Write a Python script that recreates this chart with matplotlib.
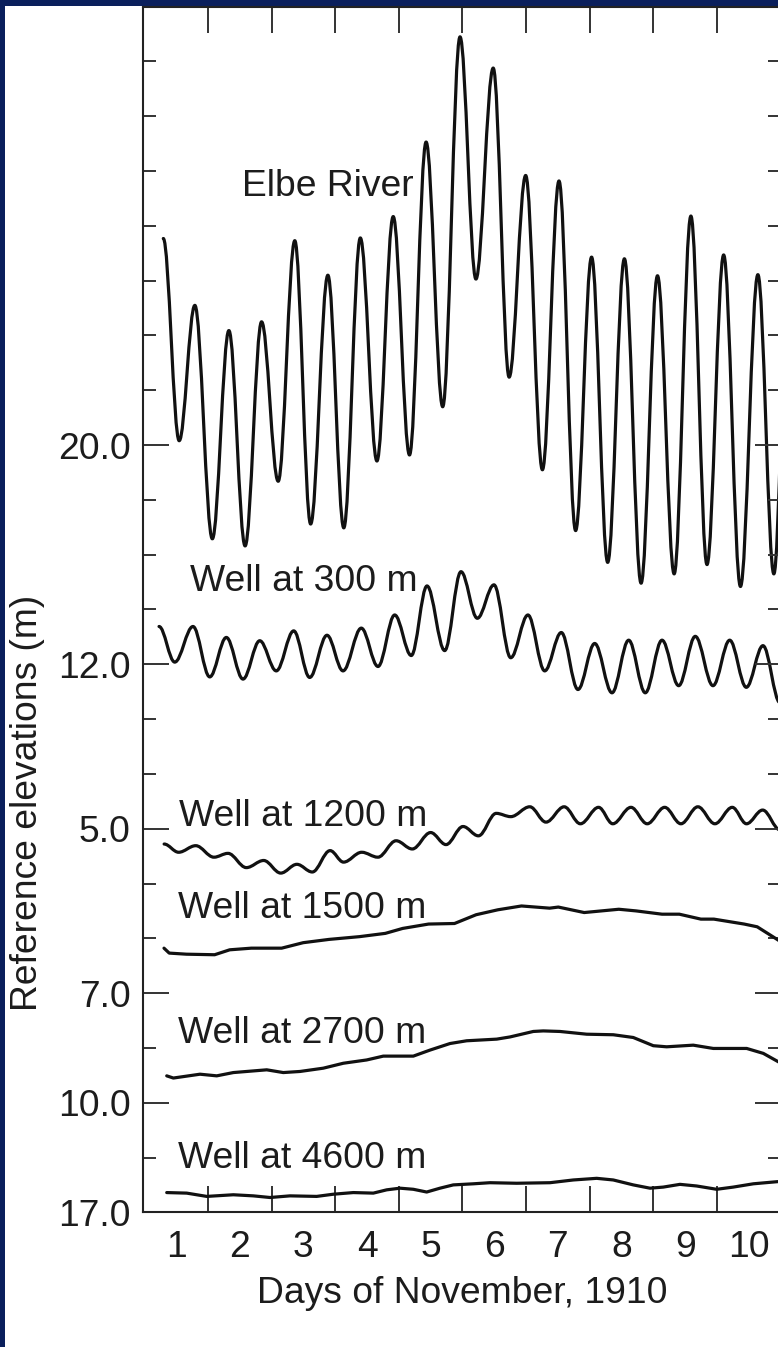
import matplotlib
matplotlib.use("Agg")
import matplotlib.pyplot as plt
from matplotlib.path import Path
from matplotlib.patches import PathPatch, Rectangle
from matplotlib.ticker import FixedLocator

plt.rcParams['font.family'] = ['Liberation Sans', 'DejaVu Sans']

# Chart units: x in days of November, y in offset plot units (one minor tick = 1)
elbe_day = [0.797, 1.047, 1.293, 1.568, 1.828, 2.083, 2.342, 2.603, 2.864, 3.113,
            3.384, 3.634, 3.894, 4.155, 4.411, 4.667, 4.928, 5.189, 5.461, 5.711,
            5.983, 6.233, 6.493, 6.756, 7.017, 7.278, 7.529, 7.782, 8.045, 8.307,
            8.565, 8.827, 9.090, 9.343, 9.605, 9.869, 10.143, 10.394, 10.62]
elbe_level = [17.77, 14.08, 16.55, 12.29, 16.09, 12.16, 16.25, 13.34, 17.73, 12.56,
              17.10, 12.49, 17.78, 13.71, 18.17, 13.82, 19.53, 14.70, 21.45, 17.03,
              20.88, 15.24, 18.92, 13.55, 18.82, 12.44, 17.43, 11.86, 17.40, 11.48,
              17.09, 11.65, 18.18, 11.82, 17.47, 11.42, 17.11, 11.65, 17.0]

well300_day = [0.730, 0.977, 1.264, 1.527, 1.788, 2.050, 2.313, 2.573, 2.847, 3.098,
               3.370, 3.622, 3.909, 4.172, 4.434, 4.695, 4.942, 5.220, 5.476, 5.733,
               5.995, 6.258, 6.529, 6.792, 7.053, 7.315, 7.578, 7.850, 8.112, 8.373,
               8.636, 8.898, 9.159, 9.437, 9.700, 9.961, 10.223, 10.49]
well300_level = [10.69, 10.04, 10.69, 9.77, 10.49, 9.73, 10.43, 9.88, 10.61, 9.76,
                 10.53, 9.88, 10.66, 9.96, 10.90, 10.16, 11.43, 10.25, 11.69, 10.84,
                 11.45, 10.12, 10.90, 9.88, 10.58, 9.54, 10.38, 9.48, 10.44, 9.48,
                 10.44, 9.61, 10.51, 9.61, 10.44, 9.58, 10.34, 9.30]

well1200_day = [0.810, 1.038, 1.307, 1.593, 1.814, 2.102, 2.375, 2.643, 2.897, 3.139,
                3.419, 3.630, 3.916, 4.170, 4.456, 4.711, 4.999, 5.241, 5.508, 5.750,
                6.030, 6.259, 6.558, 6.812, 7.098, 7.353, 7.639, 7.862, 8.148, 8.403,
                8.678, 8.933, 9.200, 9.467, 9.740, 9.964, 10.218, 10.49]
well1200_level = [6.72, 6.57, 6.69, 6.48, 6.55, 6.29, 6.42, 6.19, 6.35, 6.21,
                  6.60, 6.39, 6.57, 6.48, 6.78, 6.63, 6.93, 6.71, 7.04, 6.87,
                  7.28, 7.22, 7.40, 7.12, 7.40, 7.09, 7.39, 7.09, 7.39, 7.09,
                  7.39, 7.09, 7.40, 7.09, 7.39, 7.09, 7.34, 6.98]

well1500_day = [0.808, 0.890, 1.162, 1.604, 1.841, 2.181, 2.657, 2.996, 3.403, 3.880,
                4.287, 4.559, 4.967, 5.374, 5.714, 6.055, 6.427, 6.869, 7.006, 7.413,
                7.957, 8.228, 8.636, 8.908, 9.247, 9.451, 9.927, 10.132, 10.459, 10.65]
well1500_level = [4.82, 4.73, 4.71, 4.70, 4.79, 4.82, 4.82, 4.92, 4.98, 5.03,
                  5.09, 5.18, 5.26, 5.27, 5.43, 5.52, 5.59, 5.55, 5.57, 5.47,
                  5.53, 5.50, 5.44, 5.44, 5.35, 5.35, 5.26, 5.21, 4.97, 4.82]

well2700_day = [0.851, 0.955, 1.374, 1.637, 1.898, 2.423, 2.683, 2.946, 3.312, 3.627,
                3.994, 4.255, 4.727, 4.989, 5.304, 5.566, 6.038, 6.247, 6.613, 6.770,
                7.032, 7.452, 7.870, 8.184, 8.499, 8.709, 9.127, 9.442, 9.967, 10.228,
                10.459, 10.647]
well2700_level = [2.49, 2.45, 2.52, 2.49, 2.55, 2.60, 2.55, 2.57, 2.63, 2.72,
                  2.78, 2.85, 2.85, 2.96, 3.08, 3.13, 3.16, 3.20, 3.30, 3.31,
                  3.30, 3.25, 3.24, 3.19, 3.04, 3.02, 3.05, 2.99, 2.99, 2.90,
                  2.75, 2.63]

well4600_day = [0.851, 1.165, 1.480, 1.898, 2.212, 2.474, 2.789, 3.208, 3.469, 3.784,
                4.098, 4.309, 4.518, 4.727, 4.937, 5.146, 5.355, 5.670, 5.932, 6.352,
                6.875, 7.241, 7.609, 7.870, 8.184, 8.447, 8.656, 8.918, 9.181, 9.495,
                9.756, 10.071, 10.459, 10.6]
well4600_level = [0.36, 0.35, 0.29, 0.32, 0.30, 0.27, 0.30, 0.29, 0.33, 0.36,
                  0.35, 0.41, 0.44, 0.42, 0.37, 0.44, 0.50, 0.52, 0.54, 0.53,
                  0.54, 0.59, 0.62, 0.59, 0.50, 0.44, 0.46, 0.51, 0.48, 0.42,
                  0.46, 0.52, 0.56, 0.57]

day_labels = ['1', '2', '3', '4', '5', '6', '7', '8', '9', '10']
day_pos = [1, 2, 3, 4, 5, 6, 7, 8, 9, 10]
day_edges = [1.5, 2.5, 3.5, 4.5, 5.5, 6.5, 7.5, 8.5, 9.5]
ylab_pos = [0, 2, 4, 7, 10, 14]
ylab_text = ['17.0', '10.0', '7.0', '5.0', '12.0', '20.0']

navy = '#0a1f5c'
ink = '#1c1c1c'
FS = 26.8


def tide_path(days, levels, h=0.36):
    # smooth curve through the read highs and lows
    verts = [(days[0], levels[0])]
    codes = [Path.MOVETO]
    for i in range(len(days) - 1):
        dx = days[i + 1] - days[i]
        verts += [(days[i] + h * dx, levels[i]),
                  (days[i + 1] - h * dx, levels[i + 1]),
                  (days[i + 1], levels[i + 1])]
        codes += [Path.CURVE4] * 3
    return Path(verts, codes)


W, H = 778, 1347
fig = plt.figure(figsize=(W / 100, H / 100), dpi=100)
fig.patch.set_facecolor(navy)
fig.add_artist(Rectangle((5 / W, 0), 1, 1 - 6 / H, transform=fig.transFigure,
                         facecolor='white', edgecolor='none', zorder=-1))

ax = fig.add_axes([143 / W, 1 - 1212.3 / H, 637.6 / W, (1212.3 - 6.7) / H])
ax.set_facecolor('white')
ax.set_xlim(0.478, 10.5)
ax.set_ylim(0, 22)

for d, v in [(elbe_day, elbe_level), (well300_day, well300_level),
             (well1200_day, well1200_level)]:
    ax.add_patch(PathPatch(tide_path(d, v), fill=False, lw=2.3, ec='#111111',
                           capstyle='round', joinstyle='round'))

for d, v in [(well1500_day, well1500_level), (well2700_day, well2700_level),
             (well4600_day, well4600_level)]:
    ax.plot(d, v, color='#111111', lw=2.3, solid_capstyle='round')

# curve labels
ax.text(2.034, 18.55, 'Elbe River', fontsize=FS, color=ink, va='baseline')
ax.text(1.212, 11.34, 'Well at 300 m', fontsize=FS, color=ink, va='baseline')
ax.text(1.038, 7.055, 'Well at 1200 m', fontsize=FS, color=ink, va='baseline')
ax.text(1.025, 5.365, 'Well at 1500 m', fontsize=FS, color=ink, va='baseline')
ax.text(1.033, 3.098, 'Well at 2700 m', fontsize=FS, color=ink, va='baseline')
ax.text(1.033, 0.803, 'Well at 4600 m', fontsize=FS, color=ink, va='baseline')

# x ticks: labels at day centres, marks at day boundaries
ax.xaxis.set_major_locator(FixedLocator(day_pos))
ax.set_xticklabels(day_labels)
ax.xaxis.set_minor_locator(FixedLocator(day_edges))
ax.tick_params(axis='x', which='major', length=0, pad=13, labelsize=FS,
               labelcolor=ink)
ax.tick_params(axis='x', which='minor', direction='in', length=19, width=1.4,
               color='#333333', top=True, bottom=True)

# y ticks
ax.yaxis.set_major_locator(FixedLocator(ylab_pos))
ax.set_yticklabels(ylab_text)
ax.yaxis.set_minor_locator(FixedLocator([k for k in range(1, 22) if k not in ylab_pos]))
ax.tick_params(axis='y', which='major', direction='in', length=19, width=1.4,
               color='#333333', left=True, right=True, pad=9, labelsize=FS,
               labelcolor=ink)
ax.tick_params(axis='y', which='minor', direction='in', length=9.5, width=1.4,
               color='#333333', left=True, right=True)

for s in ax.spines.values():
    s.set_linewidth(1.5)
    s.set_color('#222222')

fig.text(462 / W, 1 - 1303 / H, 'Days of November, 1910', fontsize=FS,
         color=ink, ha='center', va='baseline')
fig.text(28 / W, 1 - 803 / H, 'Reference elevations (m)', fontsize=FS,
         color=ink, ha='center', va='center', rotation=90)

fig.savefig('out.png', dpi=100, facecolor=fig.get_facecolor())
